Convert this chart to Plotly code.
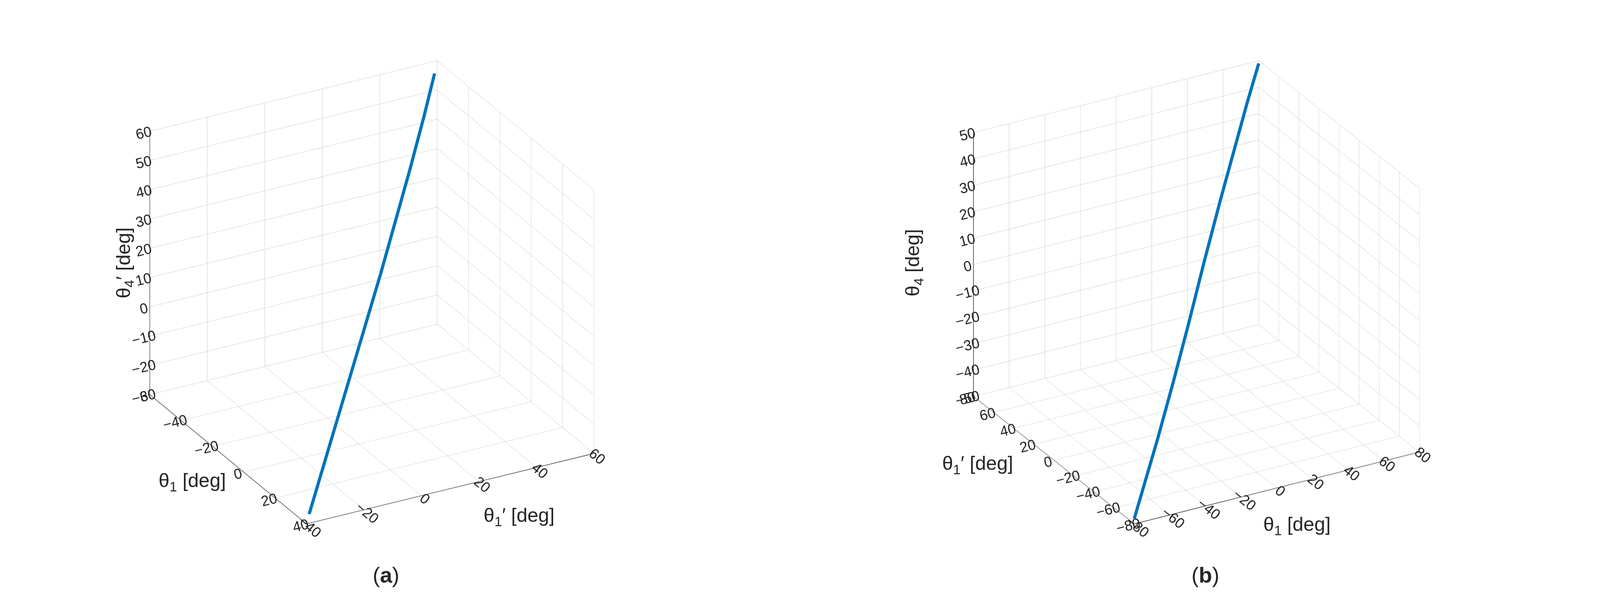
import plotly.graph_objects as go
from plotly.subplots import make_subplots

# (a) theta1, theta1', theta4'
a_theta1 = [38, 27, 16, 5, -6, -17, -28, -39, -50, -58]
a_theta1p = [-38, -27, -16, -5, 6, 17, 28, 39, 50, 58]
a_theta4p = [-28, -19, -10, -1, 8, 17, 27, 37, 48, 57]

# (b) theta1, theta1', theta4
b_theta1 = [-80, -65, -50, -30, -10, 10, 30, 50, 65, 80]
b_theta1p = [-80, -65, -50, -30, -10, 10, 30, 50, 65, 80]
b_theta4 = [-48, -40, -32, -20, -7, 7, 20, 32, 41, 49]

BLUE = "#0072BD"
FONT = "Liberation Sans, Arial, sans-serif"
TXT = "#262626"

fig = make_subplots(rows=1, cols=2, specs=[[{"type": "scene"}, {"type": "scene"}]],
                    horizontal_spacing=0.04)

fig.add_trace(go.Scatter3d(x=a_theta1, y=a_theta1p, z=a_theta4p, mode="lines",
                           line=dict(color=BLUE, width=16), showlegend=False), 1, 1)
fig.add_trace(go.Scatter3d(x=b_theta1, y=b_theta1p, z=b_theta4, mode="lines",
                           line=dict(color=BLUE, width=16), showlegend=False), 1, 2)


def ax(rng, dtick):
    # titles are drawn as paper annotations so they do not sit on the ticks
    return dict(title=dict(text=""), range=rng, dtick=dtick, showbackground=False,
                gridcolor="#cccccc", gridwidth=2, showline=True, linecolor=TXT,
                linewidth=3, zeroline=False,
                tickfont=dict(size=21, family=FONT, color=TXT), showspikes=False)


AR = dict(x=1.2, y=1.2, z=1.08)

fig.update_layout(
    scene=dict(
        xaxis=ax([-60, 40], 20),
        yaxis=ax([-40, 60], 20),
        zaxis=ax([-30, 60], 10),
        aspectmode="manual", aspectratio=AR,
        camera=dict(eye=dict(x=1.1, y=-0.6, z=0.68),
                    center=dict(x=0, y=0, z=0.05),
                    projection=dict(type="orthographic")),
        domain=dict(x=[0.0, 0.46], y=[0.06, 1.0]),
    ),
    scene2=dict(
        xaxis=ax([-80, 80], 20),
        yaxis=ax([-80, 80], 20),
        zaxis=ax([-50, 50], 10),
        aspectmode="manual", aspectratio=AR,
        camera=dict(eye=dict(x=-0.62, y=-1.1, z=0.68),
                    center=dict(x=0, y=0, z=0.05),
                    projection=dict(type="orthographic")),
        domain=dict(x=[0.5, 1.0], y=[0.06, 1.0]),
    ),
    paper_bgcolor="white",
    margin=dict(l=10, r=10, t=10, b=10),
)


def label(text, x, y, angle=0, size=50):
    fig.add_annotation(text=text, x=x, y=y, xref="paper", yref="paper",
                       showarrow=False, textangle=angle,
                       font=dict(size=size, family=FONT, color=TXT))


label("θ<sub>1</sub> [deg]", 0.095, 0.16)
label("θ<sub>1</sub>′ [deg]", 0.30, 0.10)
label("θ<sub>4</sub>′ [deg]", 0.066, 0.56, angle=-90)
label("θ<sub>1</sub>′ [deg]", 0.612, 0.19)
label("θ<sub>1</sub> [deg]", 0.835, 0.085)
label("θ<sub>4</sub> [deg]", 0.572, 0.56, angle=-90)
label("(<b>a</b>)", 0.23, 0.0, size=56)
label("(<b>b</b>)", 0.765, 0.0, size=56)

fig.write_html("out.html")
